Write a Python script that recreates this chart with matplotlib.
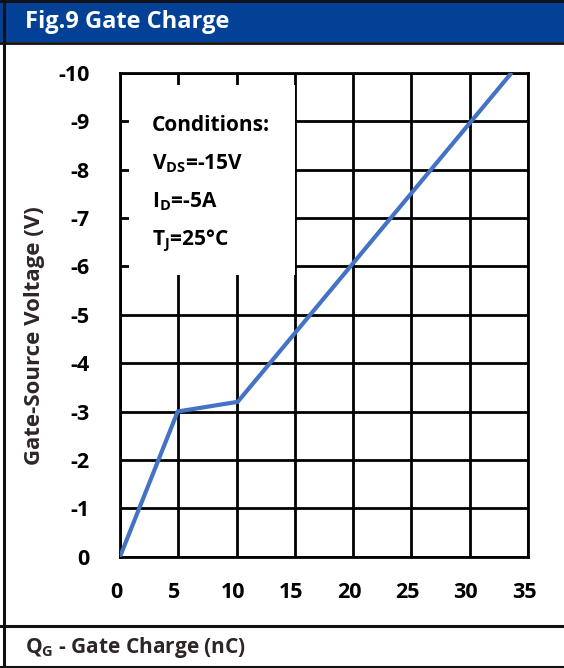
import matplotlib
matplotlib.use("Agg")
import matplotlib.pyplot as plt
from matplotlib.patches import Rectangle
from matplotlib.lines import Line2D
from matplotlib.transforms import ScaledTranslation

# ---- data ----
qg_nc = [0, 4.95, 10.1, 33.6]
vgs_v = [0, -3.0, -3.2, -10.0]
x_ticks = [0, 5, 10, 15, 20, 25, 30, 35]
y_ticks = [0, -1, -2, -3, -4, -5, -6, -7, -8, -9, -10]
y_tick_labels = ["0", "-1", "-2", "-3", "-4", "-5", "-6", "-7", "-8", "-9", "-10"]
conditions = ["Conditions:", r"$\mathrm{V_{DS}}$=-15V", r"$\mathrm{I_{D}}$=-5A", r"$\mathrm{T_{J}}$=25°C"]
title = "Fig.9 Gate Charge"
ylabel = "Gate-Source Voltage (V)"
xlabel = r"$\mathrm{Q_{G}}$ - Gate Charge (nC)"

plt.rcParams['font.family'] = ['Open Sans', 'DejaVu Sans']
plt.rcParams['font.weight'] = 'bold'
plt.rcParams['mathtext.fontset'] = 'custom'
plt.rcParams['mathtext.rm'] = 'Open Sans:bold'
plt.rcParams['mathtext.bf'] = 'Open Sans:bold'
plt.rcParams['mathtext.it'] = 'Open Sans:bold'
plt.rcParams['mathtext.sf'] = 'Open Sans:bold'

W, H = 564, 668
fig = plt.figure(figsize=(W / 100, H / 100), dpi=100)
fig.patch.set_facecolor('white')

def fx(px):
    return px / W

def fy(py):
    return 1 - py / H

# header band
fig.patches.append(Rectangle((0, fy(42)), 1, fy(0) - fy(42), transform=fig.transFigure,
                             facecolor='#034196', edgecolor='none', zorder=0))
fig.text(fx(25), fy(21.5), title, color='white', fontsize=17, fontweight='bold',
         ha='left', va='center')

# frame lines
frame_color = '#111111'
for (x0, y0, x1, y1, lw) in [(3.5, 0, 3.5, H, 2.2), (0, 1, W, 1, 2),
                             (0, 42.5, W, 42.5, 2), (0, 626, W, 626, 2.2),
                             (0, 666.5, W, 666.5, 2.2)]:
    fig.lines.append(Line2D([fx(x0), fx(x1)], [fy(y0), fy(y1)], transform=fig.transFigure,
                            color=frame_color, lw=lw, zorder=5))

# axes
ax = fig.add_axes([fx(120), fy(556.7), fx(528) - fx(120), fy(72.7) - fy(556.7)])
ax.set_xlim(0, 35)
ax.set_ylim(0, -10)
ax.set_xticks(x_ticks)
ax.set_yticks(y_ticks)
ax.set_yticklabels(y_tick_labels)
ax.tick_params(axis='both', length=0, labelsize=15.5, colors='black')
ax.tick_params(axis='y', pad=22)
ax.tick_params(axis='x', pad=18)
shift = ScaledTranslation(-4 / 100, 0, fig.dpi_scale_trans)
for lab in ax.get_xticklabels():
    lab.set_fontweight('bold')
    lab.set_transform(lab.get_transform() + shift)
for lab in ax.get_yticklabels():
    lab.set_fontweight('bold')
ax.set_axisbelow(True)
ax.grid(True, color='black', lw=2)
for s in ax.spines.values():
    s.set_color('black')
    s.set_linewidth(2)

ax.add_patch(Rectangle((0.8, -9.75), 14.2, 3.93, facecolor='white', edgecolor='none', zorder=1.5))
ax.plot(qg_nc, vgs_v, color='#4472C4', lw=3, zorder=3, solid_capstyle='butt')

cond_y = [-8.80, -8.01, -7.22, -6.43]
for txt, yy in zip(conditions, cond_y):
    ax.text(2.75, yy, txt, fontsize=15, fontweight='bold', color='black',
            ha='left', va='baseline', zorder=4)

fig.text(fx(35), fy(336), ylabel, rotation=90, fontsize=16, fontweight='bold',
         color='#2e2626', ha='center', va='center')
fig.text(fx(25), fy(648), xlabel, fontsize=15, fontweight='bold',
         color='#2e2626', ha='left', va='center')

fig.savefig('out.png', dpi=100)
